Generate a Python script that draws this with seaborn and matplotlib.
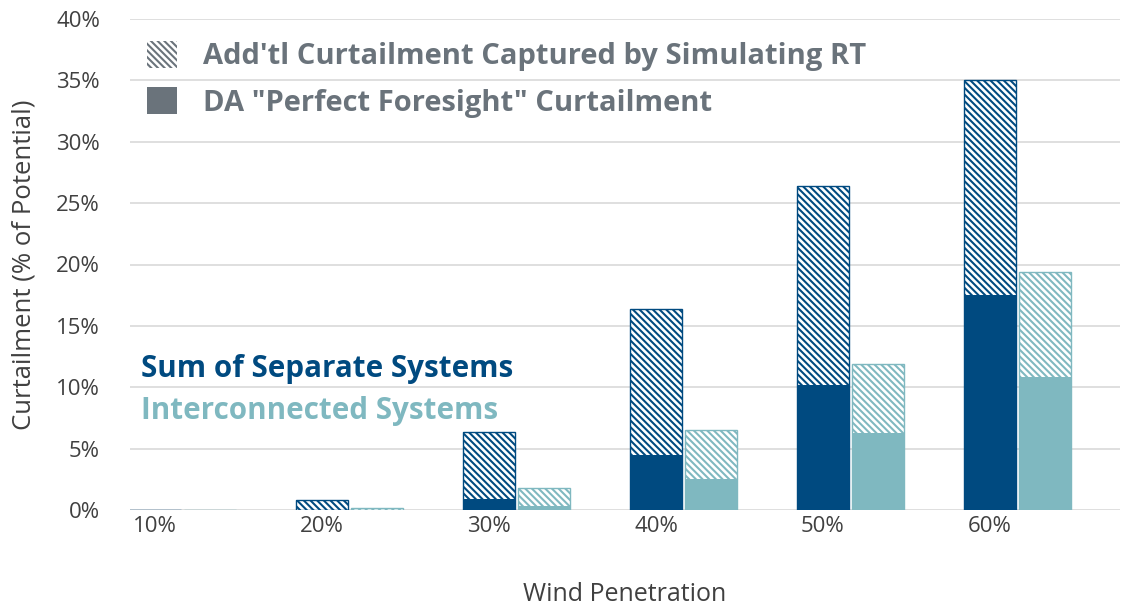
import matplotlib
matplotlib.use("Agg")
import matplotlib.pyplot as plt
from matplotlib.patches import Patch
import seaborn as sns
import pandas as pd

# Wind penetration scenarios
penetration = ["10%", "20%", "30%", "40%", "50%", "60%"]

# Curtailment as a fraction of potential wind output
sum_total = [0.0, 0.008, 0.0635, 0.164, 0.264, 0.350]
sum_da = [0.0, 0.0, 0.009, 0.045, 0.102, 0.175]
inter_total = [0.0, 0.002, 0.018, 0.065, 0.119, 0.194]
inter_da = [0.0, 0.0, 0.003, 0.025, 0.063, 0.108]

systems = ["Sum of Separate Systems", "Interconnected Systems"]
y_ticks = [0.0, 0.05, 0.10, 0.15, 0.20, 0.25, 0.30, 0.35, 0.40]

DARK_BLUE = "#004a80"
TEAL = "#7fb8c0"
LEGEND_GRAY = "#6a737b"
TEXT_GRAY = "#404040"
HATCH = "\\" * 5

sns.set_theme(style="white")
plt.rcParams["font.family"] = ["Open Sans", "DejaVu Sans"]
plt.rcParams["hatch.linewidth"] = 1.9

df = pd.DataFrame({
    "Wind Penetration": penetration * 2,
    "system": [systems[0]] * len(penetration) + [systems[1]] * len(penetration),
    "total": sum_total + inter_total,
    "da": sum_da + inter_da,
})

fig = plt.figure(figsize=(11.22, 6.08), dpi=100)
ax = fig.add_axes([130 / 1122, 1 - 510 / 608, 990 / 1122, 491 / 608])

palette = {systems[0]: DARK_BLUE, systems[1]: TEAL}
bar_kw = dict(width=0.66, gap=0.06, dodge=True, legend=False, palette=palette,
              hue_order=systems, order=penetration, saturation=1, errorbar=None)

# Total curtailment (RT simulation) drawn hatched
sns.barplot(data=df, x="Wind Penetration", y="total", hue="system", ax=ax, **bar_kw)
for p in list(ax.patches):
    p.set_hatch(HATCH)
    p.set_edgecolor("white")
    p.set_linewidth(0)

# Thin outline around the hatched totals
sns.barplot(data=df, x="Wind Penetration", y="total", hue="system", ax=ax,
            fill=False, linewidth=1.0, **bar_kw)
n_outlined = len(ax.patches)

# Day-ahead portion drawn solid on top
sns.barplot(data=df, x="Wind Penetration", y="da", hue="system", ax=ax, **bar_kw)
for p in ax.patches[n_outlined:]:
    p.set_linewidth(0)

ax.set_ylim(0, 0.40)
ax.set_xlim(-0.315, 5.614)
ax.set_yticks(y_ticks)
ax.set_yticklabels([f"{int(round(v * 100))}%" for v in y_ticks])
ax.set_xticks([i - 0.165 for i in range(len(penetration))])
ax.set_xticklabels(penetration)
ax.tick_params(axis="both", labelsize=16, labelcolor=TEXT_GRAY, length=0)
ax.tick_params(axis="x", pad=4)
ax.tick_params(axis="y", pad=21.6)
ax.yaxis.grid(True, color="#d9d9d9", linewidth=1.2)
ax.set_axisbelow(True)
for s in ax.spines.values():
    s.set_visible(False)

ax.set_xlabel("Wind Penetration", fontsize=18, color=TEXT_GRAY, labelpad=33)
ax.set_ylabel("Curtailment (% of Potential)", fontsize=18.5, color=TEXT_GRAY, labelpad=14)

# Legend for the two curtailment components
handles = [
    Patch(facecolor=LEGEND_GRAY, edgecolor="white", hatch=HATCH, linewidth=0,
          label="Add'tl Curtailment Captured by Simulating RT"),
    Patch(facecolor=LEGEND_GRAY, edgecolor=LEGEND_GRAY, linewidth=0,
          label='DA "Perfect Foresight" Curtailment'),
]
leg = ax.legend(handles=handles, loc="upper left", bbox_to_anchor=(147 / 1122, 1 - 41 / 608),
                bbox_transform=fig.transFigure, frameon=False, fontsize=21,
                handlelength=1.03, handleheight=1.03, handletextpad=0.9,
                labelspacing=0.55, borderpad=0, borderaxespad=0)
for t in leg.get_texts():
    t.set_color(LEGEND_GRAY)
    t.set_fontweight("bold")

# Series labels
fig.text(141 / 1122, 1 - 369 / 608, systems[0], color=DARK_BLUE, fontsize=21.3,
         fontweight="bold", va="center", ha="left")
fig.text(141 / 1122, 1 - 411 / 608, systems[1], color=TEAL, fontsize=21.3,
         fontweight="bold", va="center", ha="left")

fig.savefig("out.png", dpi=100)
